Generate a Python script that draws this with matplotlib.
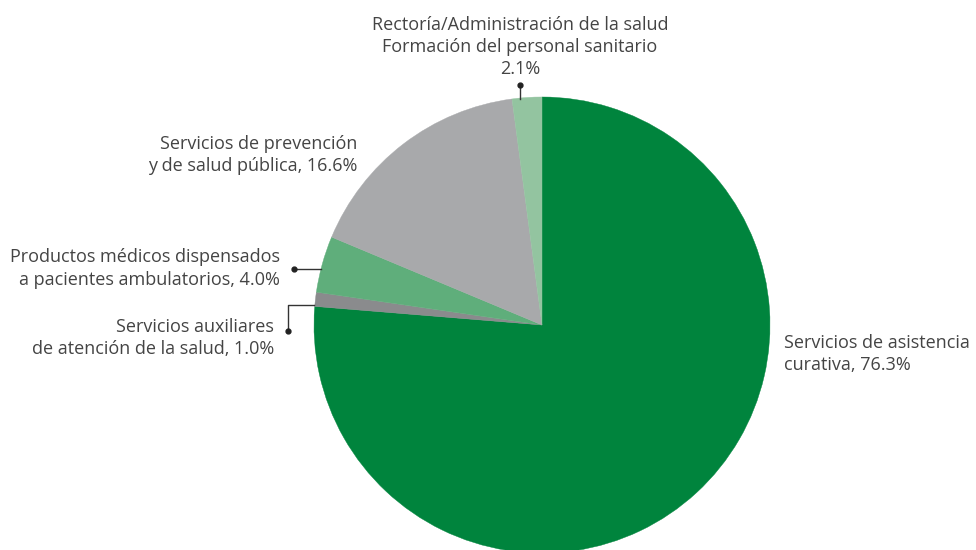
import matplotlib
matplotlib.use("Agg")
import matplotlib.pyplot as plt

# shares of health spending by function
labels = [
    "Servicios de asistencia\ncurativa, 76.3%",
    "Servicios auxiliares\nde atención de la salud, 1.0%",
    "Productos médicos dispensados\na pacientes ambulatorios, 4.0%",
    "Servicios de prevención\ny de salud pública, 16.6%",
    "Rectoría/Administración de la salud\nFormación del personal sanitario\n2.1%",
]
values = [76.3, 1.0, 4.0, 16.6, 2.1]
colors = ["#00843D", "#8A8B8D", "#5FAE7B", "#A8A9AB", "#93C4A0"]

W, H = 976, 550
CX, CY, R = 542, 550 - 325, 228
TEXT_COLOR = "#444444"
FONT = "Open Sans"

fig = plt.figure(figsize=(W / 100, H / 100), dpi=100)
ax = fig.add_axes([0, 0, 1, 1])

wedges, _ = ax.pie(values, colors=colors, startangle=90, counterclock=False,
                   center=(CX, CY), radius=R, frame=True)
for w, c in zip(wedges, colors):
    w.set_edgecolor(c)
    w.set_linewidth(0.3)
ax.set_xlim(0, W)
ax.set_ylim(0, H)
ax.set_aspect("equal")
ax.axis("off")

def y(p):
    return H - p

txt = dict(fontsize=13, color=TEXT_COLOR, family=FONT, linespacing=1.32)

# curativa
ax.text(784, y(354), labels[0], ha="left", va="center", **txt)
# auxiliares
ax.text(274, y(338), labels[1], ha="right", va="center", **txt)
ax.plot([288, 288, 314], [y(331), y(305), y(305)], color="#333333", lw=1)
ax.plot(288, y(331), "o", color="#222222", ms=3.5)
# productos
ax.text(280, y(268.5), labels[2], ha="right", va="center", **txt)
ax.plot([294, 321], [y(269), y(269)], color="#333333", lw=1)
ax.plot(294, y(269), "o", color="#222222", ms=3.5)
# prevencion
ax.text(357, y(155), labels[3], ha="right", va="center", **txt)
# rectoria
ax.text(520, y(47), labels[4], ha="center", va="center", **txt)
ax.plot([520, 520], [y(85), y(99)], color="#333333", lw=1)
ax.plot(520, y(85), "o", color="#222222", ms=3.5)

fig.savefig("out.png", dpi=100, facecolor="white")
